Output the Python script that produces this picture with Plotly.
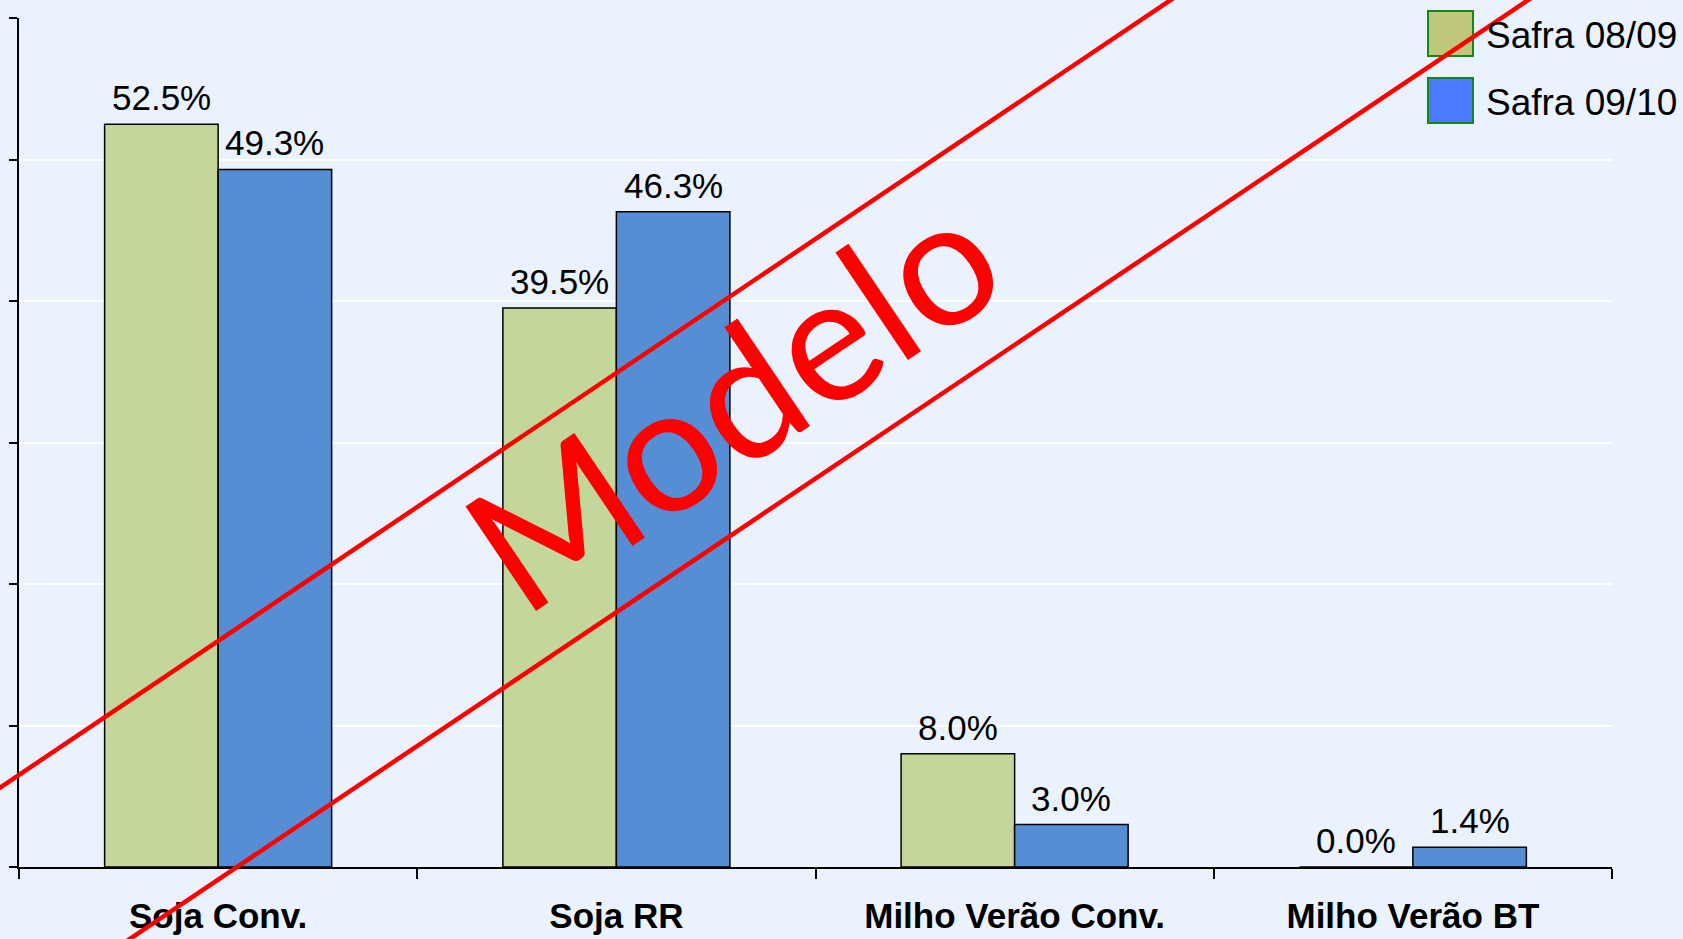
import plotly.graph_objects as go

# ---------------------------------------------------------------------------
# Data
# ---------------------------------------------------------------------------

CATEGORIES = ["Soja Conv.", "Soja RR", "Milho Verão Conv.", "Milho Verão BT"]
SAFRA_0809 = [52.5, 39.5, 8.0, 0.0]
SAFRA_0910 = [49.3, 46.3, 3.0, 1.4]
SERIES_NAMES = ["Safra 08/09", "Safra 09/10"]
Y_TICKS = [0, 10, 20, 30, 40, 50, 60]

# ---------------------------------------------------------------------------
# Style
# ---------------------------------------------------------------------------

W, H = 1683, 939
M_L, M_R, M_T, M_B = 19, 71, 18, 72
BG = "#e9f2fd"
BAR_GREEN = "#c4d79b"
BAR_BLUE = "#558ed5"
LEG_GREEN = "#c0c67b"
LEG_BLUE = "#4d79ff"
LEG_EDGE = "#138a13"
RED = "#ff0000"
FONT = "Arial, Liberation Sans, sans-serif"
BARGAP = 0.43


def px(x):
    """Figure pixel x -> paper x."""
    return (x - M_L) / (W - M_L - M_R)


def py(y):
    """Figure pixel y -> paper y."""
    return (H - M_B - y) / (H - M_T - M_B)


fig = go.Figure()
annotations = []
half = (1 - BARGAP) / 4  # centre offset of each bar inside its group
for k, (name, vals, color) in enumerate([
    (SERIES_NAMES[0], SAFRA_0809, BAR_GREEN),
    (SERIES_NAMES[1], SAFRA_0910, BAR_BLUE),
]):
    fig.add_trace(
        go.Bar(
            x=CATEGORIES,
            y=vals,
            name=name,
            marker=dict(color=color, line=dict(color="#000000", width=1.5)),
        )
    )
    off = -half if k == 0 else half
    for i, v in enumerate(vals):
        annotations.append(dict(xref="x", yref="y", x=i + off, y=v,
                                xanchor="center", yanchor="bottom", yshift=5,
                                showarrow=False, text=f"{v:.1f}%",
                                font=dict(family=FONT, size=35, color="#000000")))

shapes = []

# legend panel covers the top gridline, like the original
shapes.append(dict(type="rect", xref="paper", yref="paper", layer="above",
                   x0=px(1420), x1=px(1683), y0=py(135), y1=py(0),
                   fillcolor=BG, line=dict(width=0)))
for i, (name, col) in enumerate([(SERIES_NAMES[0], LEG_GREEN), (SERIES_NAMES[1], LEG_BLUE)]):
    top = 11 + i * 67
    shapes.append(dict(type="rect", xref="paper", yref="paper", layer="above",
                       x0=px(1428), x1=px(1473), y0=py(top + 45), y1=py(top),
                       fillcolor=col, line=dict(color=LEG_EDGE, width=2)))
    annotations.append(dict(xref="paper", yref="paper", x=px(1484), y=py(top + 24.5),
                            xanchor="left", yanchor="middle", showarrow=False,
                            text=name, font=dict(family=FONT, size=37, color="#000000")))

# "Modelo" watermark with two parallel red lines
for (xa, ya), (xb, yb) in [((-100, 855), (1300, -87)), ((30, 1006), (1640, -75))]:
    shapes.append(dict(type="line", xref="paper", yref="paper", layer="above",
                       x0=px(xa), y0=py(ya), x1=px(xb), y1=py(yb),
                       line=dict(color=RED, width=4.5)))
annotations.append(dict(xref="paper", yref="paper", x=px(730), y=py(398),
                        xanchor="center", yanchor="middle", showarrow=False,
                        text="Modelo", textangle=-34,
                        font=dict(family="Lato, Open Sans, sans-serif", size=176, color=RED)))

fig.update_layout(
    width=W,
    height=H,
    barmode="group",
    bargap=BARGAP,
    bargroupgap=0,
    showlegend=False,
    paper_bgcolor=BG,
    plot_bgcolor=BG,
    margin=dict(l=M_L, r=M_R, t=M_T, b=M_B, pad=0, autoexpand=False),
    shapes=shapes,
    annotations=annotations,
    font=dict(family=FONT, color="#000000"),
)
fig.update_xaxes(
    showline=True, linecolor="#000000", linewidth=2,
    ticks="outside", ticklen=10, tickwidth=1.5, tickcolor="#000000",
    tickson="boundaries", showgrid=False, automargin=False,
    tickfont=dict(family=FONT, size=35, color="#000000", weight="bold"),
    ticklabelstandoff=17,
)
fig.update_yaxes(
    range=[0, 60], tickvals=Y_TICKS, showticklabels=False, automargin=False,
    showline=True, linecolor="#000000", linewidth=2,
    ticks="outside", ticklen=8, tickwidth=1.5, tickcolor="#000000",
    showgrid=True, gridcolor="#ffffff", gridwidth=2, zeroline=False,
)

# drop the page's default body margin so the chart sits at the window corner
fig.write_html(
    "out.html",
    config={"displayModeBar": False},
    post_script="document.body.style.margin='0';",
)
